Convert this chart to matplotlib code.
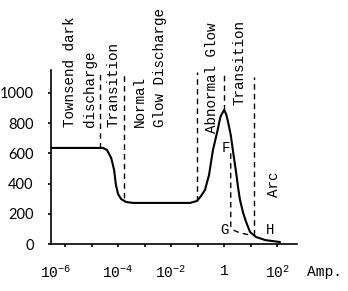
import matplotlib
matplotlib.use("Agg")
import matplotlib.pyplot as plt
from matplotlib.transforms import ScaledTranslation

# ---- data (current in A, voltage in V) ----
curve_amps = [3.0e-7, 2.7e-5, 3.8e-5, 5.5e-5, 7.1e-5, 8.3e-5, 1.0e-4, 1.3e-4,
              2.0e-4, 3.7e-4, 5.2e-2, 9.5e-2, 0.135, 0.19, 0.27, 0.38, 0.55,
              0.71, 0.78, 1.0, 1.19, 1.41, 1.78, 2.19, 2.82, 3.39, 3.98, 5.25,
              6.76, 9.55, 16.2, 35.5, 129.0]
curve_volts = [636, 636, 623, 570, 490, 391, 331, 298,
               278, 272, 272, 285, 318, 358, 457, 623, 742,
               834, 854, 887, 861, 808, 722, 609, 477, 371, 291, 205,
               146, 79, 46, 26, 13]

g_amps = [1.78, 1.78, 2.19, 3.98, 9.55]
g_volts = [600, 119, 93, 73, 60]

div_amps = [2.1e-5, 1.7e-4, 0.095, 1.0, 13.5]
div_low = [636, 305, 285, 887, 60]
div_high = [1152, 1139, 1139, 1119, 1106]

xtick_vals = [1e-6, 1e-5, 1e-4, 1e-3, 1e-2, 1e-1, 1, 10, 100]
xtick_labels = [r"$\mathregular{10^{-6}}$", "", r"$\mathregular{10^{-4}}$", "",
                r"$\mathregular{10^{-2}}$", "", "1", "", r"$\mathregular{10^{2}}$"]
ytick_vals = [0, 200, 400, 600, 800, 1000]

region_labels = [
    ("Townsend dark", 70, 127),
    ("discharge", 90, 127),
    ("Transition", 113, 127),
    ("Normal", 140, 127),
    ("Glow Discharge", 160, 127),
    ("Abnormal Glow", 212, 133),
    ("Transition", 239, 105),
    ("Arc", 274, 197),
]
point_labels = [("F", 226, 148), ("G", 224, 230), ("H", 270, 230)]

W, H = 348, 291
plt.rcParams['mathtext.fontset'] = 'custom'
plt.rcParams['mathtext.rm'] = 'Liberation Mono'
plt.rcParams['mathtext.it'] = 'Liberation Mono'

fig = plt.figure(figsize=(W / 100, H / 100), dpi=100)
ax = fig.add_axes([51 / W, (H - 244) / H, (297 - 51) / W, (244 - 70) / H])
ax.set_xscale('log')
ax.set_xlim(10 ** -6.53, 10 ** 2.75)
ax.set_ylim(0, 1152)

ax.plot(curve_amps, curve_volts, color='black', lw=1.5, solid_capstyle='round')
ax.plot(g_amps, g_volts, color='black', lw=1.0, linestyle=(0, (4, 3)))
for xa, lo, hi in zip(div_amps, div_low, div_high):
    ax.plot([xa, xa], [lo, hi], color='black', lw=1.0, linestyle=(0, (4, 3)))

for s in ['top', 'right']:
    ax.spines[s].set_visible(False)
for s in ['left', 'bottom']:
    ax.spines[s].set_linewidth(1.2)

ax.set_xticks(xtick_vals)
ax.set_xticklabels(xtick_labels, fontfamily='Liberation Mono', fontsize=10.5)
ax.xaxis.set_minor_locator(matplotlib.ticker.NullLocator())
ax.tick_params(axis='x', length=2.5, width=1.2, pad=12)
ax.set_yticks(ytick_vals)
ax.set_yticklabels([str(v) for v in ytick_vals], fontfamily='Lato', fontsize=10.5)
ax.tick_params(axis='y', length=2.5, width=1.2, pad=10)

first = ax.get_xticklabels()[0]
first.set_transform(first.get_transform() + ScaledTranslation(-9 / 100, 0, fig.dpi_scale_trans))

def fx(px):
    return px / W

def fy(py):
    return 1 - py / H

for txt, px, py in region_labels:
    fig.text(fx(px), fy(py), txt, rotation=90, rotation_mode='anchor',
             ha='left', va='center', fontfamily='Liberation Mono', fontsize=10.3)
for txt, px, py in point_labels:
    fig.text(fx(px), fy(py), txt, ha='center', va='center',
             fontfamily='Liberation Mono', fontsize=10)

fig.text(fx(307), fy(272), "Amp.", ha='left', va='center',
         fontfamily='Liberation Mono', fontsize=10.5)

fig.savefig("out.png", dpi=100)
